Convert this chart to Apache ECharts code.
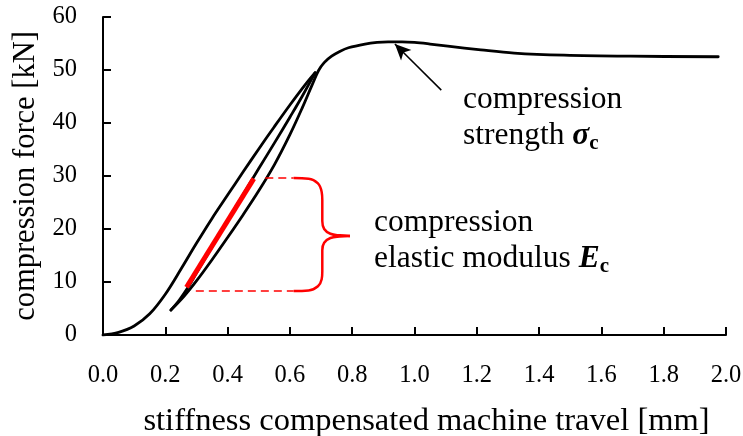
<!DOCTYPE html>
<html>
<head>
<meta charset="utf-8">
<script src="https://cdn.jsdelivr.net/npm/echarts@6/dist/echarts.min.js"></script>
<style>
html,body{margin:0;padding:0;background:#fff;}
#chart{width:743px;height:436px;}
</style>
</head>
<body>
<div id="chart"></div>
<script>
// ---- data ----
const xTicksMin = 0, xTicksMax = 2, xTickStep = 0.2;
const yTicksMin = 0, yTicksMax = 60, yTickStep = 10;

// first loading up to the loop top
const loadX = [0, 0.05, 0.1, 0.15, 0.2, 0.25, 0.3, 0.35, 0.4, 0.45, 0.5, 0.55, 0.6, 0.65, 0.681];
const loadY = [0, 0.5, 1.7, 4.0, 7.7, 12.4, 17.3, 22.0, 26.4, 30.8, 35.1, 39.3, 43.4, 47.3, 49.5];

// unloading from loop top to the lower turning point
const unloadX = [0.681, 0.64, 0.6, 0.55, 0.5, 0.45, 0.4, 0.35, 0.3, 0.271, 0.245, 0.218];
const unloadY = [49.5, 45.1, 41.1, 36.2, 31.4, 26.5, 21.6, 16.6, 11.7, 8.8, 6.6, 4.7];

// reloading and rest of the test
const reloadX = [0.218, 0.26, 0.3, 0.35, 0.4, 0.45, 0.5, 0.55, 0.6, 0.64, 0.67, 0.692, 0.71, 0.734, 0.76, 0.788, 0.841, 0.88, 0.915, 0.96, 1.0, 1.05, 1.107, 1.213, 1.32, 1.48, 1.693, 1.975];
const reloadY = [4.7, 7.3, 10.2, 14.2, 18.4, 22.7, 27.2, 32.1, 37.8, 42.9, 47.0, 49.9, 51.4, 52.6, 53.5, 54.2, 54.9, 55.2, 55.3, 55.3, 55.2, 54.9, 54.5, 53.8, 53.2, 52.8, 52.6, 52.5];

// red modulus segment
const modX = [0.268, 0.484];
const modY = [9.0, 29.5];

// dashed red guides
const dashTopX = [0.521, 0.612];
const dashTopY = [29.6, 29.6];
const dashBotX = [0.298, 0.612];
const dashBotY = [8.3, 8.3];

// red brace (upper and lower halves)
const braceUpX = [0.612, 0.66, 0.69, 0.702, 0.704, 0.704, 0.71, 0.73, 0.76, 0.793];
const braceUpY = [29.6, 29.5, 28.6, 27.0, 25.5, 21.5, 20.0, 19.1, 18.8, 18.7];
const braceLoX = [0.793, 0.76, 0.73, 0.71, 0.704, 0.704, 0.702, 0.69, 0.66, 0.612];
const braceLoY = [18.7, 18.6, 18.3, 17.4, 16.0, 12.0, 10.5, 9.2, 8.4, 8.3];

// arrow to the strength peak
const arrowFrom = [1.086, 46.2];
const arrowTo = [0.937, 54.9];

// ---- build ----
const zip = (xs, ys) => xs.map((x, i) => [x, ys[i]]);
const FONT = 'Liberation Serif';

const chart = echarts.init(document.getElementById('chart'), null, {renderer: 'canvas'});

const lineBase = {type: 'line', showSymbol: false, symbol: 'none', silent: true, animation: false};
const curveStyle = {color: '#000', width: 2.8, cap: 'round', join: 'round'};

const richStyles = {
  a: {fontFamily: FONT, fontSize: 31.5, lineHeight: 36, color: '#000'},
  s: {fontFamily: FONT, fontSize: 31.5, lineHeight: 36, fontStyle: 'italic', fontWeight: 'bold', color: '#000'},
  b: {fontFamily: FONT, fontSize: 21, lineHeight: 16, fontWeight: 'bold', verticalAlign: 'bottom', color: '#000'}
};

chart.setOption({
  animation: false,
  backgroundColor: '#fff',
  grid: {left: 103, right: 17, top: 17, bottom: 101, containLabel: false, outerBoundsMode: 'none'},
  xAxis: {
    type: 'value', min: xTicksMin, max: xTicksMax, interval: xTickStep,
    axisLine: {show: true, lineStyle: {color: '#000', width: 2}},
    axisTick: {show: true, inside: true, length: 8, lineStyle: {color: '#000', width: 2}},
    splitLine: {show: false},
    axisLabel: {formatter: v => v.toFixed(1), color: '#000', fontFamily: FONT, fontSize: 24.5, margin: 28},
    name: 'stiffness compensated machine travel [mm]',
    nameLocation: 'middle', nameGap: 70,
    nameTextStyle: {color: '#000', fontFamily: FONT, fontSize: 32.5, padding: [0, 0, 0, 24]}
  },
  yAxis: {
    type: 'value', min: yTicksMin, max: yTicksMax, interval: yTickStep,
    axisLine: {show: true, lineStyle: {color: '#000', width: 2}},
    axisTick: {show: true, inside: true, length: 8, lineStyle: {color: '#000', width: 2}},
    splitLine: {show: false},
    axisLabel: {color: '#000', fontFamily: FONT, fontSize: 24.5, margin: 26},
    name: 'compression force [kN]',
    nameLocation: 'middle', nameGap: 60,
    nameTextStyle: {color: '#000', fontFamily: FONT, fontSize: 30.5}
  },
  series: [
    Object.assign({}, lineBase, {data: zip(loadX, loadY), smooth: 0.35, lineStyle: curveStyle}),
    Object.assign({}, lineBase, {data: zip(unloadX, unloadY), smooth: 0.35, lineStyle: curveStyle}),
    Object.assign({}, lineBase, {
      data: zip(reloadX, reloadY), smooth: 0.35, lineStyle: curveStyle,
      markLine: {
        silent: true, animation: false,
        symbol: ['none', 'arrow'], symbolSize: [11, 16],
        lineStyle: {color: '#000', width: 1.5, type: 'solid'},
        label: {show: false},
        data: [[{coord: arrowFrom}, {coord: arrowTo}]]
      }
    }),
    Object.assign({}, lineBase, {data: zip(modX, modY), lineStyle: {color: '#ff0000', width: 5}}),
    Object.assign({}, lineBase, {data: zip(dashTopX, dashTopY), lineStyle: {color: '#ff0000', width: 1.5, type: [8, 5]}}),
    Object.assign({}, lineBase, {data: zip(dashBotX, dashBotY), lineStyle: {color: '#ff0000', width: 1.5, type: [8, 5]}}),
    Object.assign({}, lineBase, {data: zip(braceUpX, braceUpY), smooth: 0.4, lineStyle: {color: '#ff0000', width: 2.5}}),
    Object.assign({}, lineBase, {data: zip(braceLoX, braceLoY), smooth: 0.4, lineStyle: {color: '#ff0000', width: 2.5}})
  ],
  graphic: [
    {
      type: 'text', left: 463, top: 84, silent: true,
      style: {text: '{a|compression}\n{a|strength }{s|σ}{b|c}', fill: '#000', rich: richStyles}
    },
    {
      type: 'text', left: 374, top: 207, silent: true,
      style: {text: '{a|compression}\n{a|elastic modulus }{s|E}{b|c}', fill: '#000', rich: richStyles}
    }
  ]
});
</script>
</body>
</html>
